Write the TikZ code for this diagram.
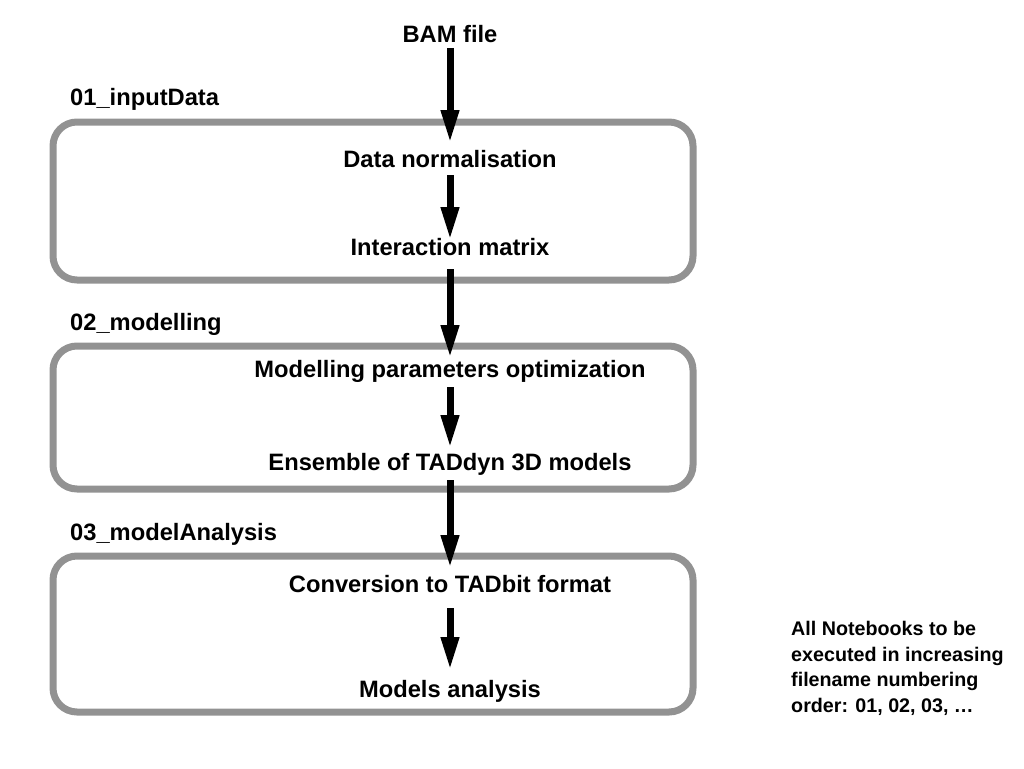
\documentclass[tikz,border=0pt]{standalone}
\usepackage{fontspec}
\setmainfont{Liberation Sans}
\usetikzlibrary{arrows.meta}
\definecolor{boxgray}{RGB}{146,146,146}
\begin{document}
\begin{tikzpicture}[x=1pt,y=-1pt,
  stage/.style={draw=boxgray,line width=7pt,rounded corners=24pt},
  txt/.style={inner sep=0pt,anchor=base,font=\fontsize{23.7}{28}\selectfont\bfseries},
  lbl/.style={inner sep=0pt,anchor=base west,font=\fontsize{23.7}{28}\selectfont\bfseries},
  note/.style={inner sep=0pt,anchor=base west,align=left,font=\fontsize{19.7}{25.5}\selectfont\bfseries},
  arr/.style={line width=7pt,-{Triangle[width=17pt,length=33pt]}}]
\useasboundingbox (0,0) rectangle (1024,768);
% stage boxes
\draw[stage] (53,122) rectangle (693,280);
\draw[stage] (53,346) rectangle (693,489);
\draw[stage] (53,556) rectangle (693,712);
% labels
\node[lbl] (l1) at (70,105) {01\_inputData};
\node[lbl] (l2) at (70,330) {02\_modelling};
\node[lbl] (l3) at (70,540) {03\_modelAnalysis};
% steps
\node[txt] (bam) at (450,42) {BAM file};
\node[txt] (dn) at (450,167) {Data normalisation};
\node[txt] (im) at (450,255) {Interaction matrix};
\node[txt] (mp) at (450,377) {Modelling parameters optimization};
\node[txt] (en) at (450,470) {Ensemble of TADdyn 3D models};
\node[txt] (cv) at (450,592) {Conversion to TADbit format};
\node[txt] (ma) at (450,697) {Models analysis};
% note (base anchor = baseline of last line)
\node[note] (nt) at (791,712) {All Notebooks to be\\executed in increasing\\filename numbering\\order: 01, 02, 03, \dots};
% arrows
\draw[arr] ([yshift=-6pt]bam.base) -- ([yshift=24pt]dn.base);
\draw[arr] ([yshift=-8pt]dn.base) -- ([yshift=15pt]im.base);
\draw[arr] ([yshift=-14pt]im.base) -- ([yshift=19pt]mp.base);
\draw[arr] ([yshift=-10pt]mp.base) -- ([yshift=22pt]en.base);
\draw[arr] ([yshift=-10pt]en.base) -- ([yshift=24pt]cv.base);
\draw[arr] ([yshift=-16pt]cv.base) -- ([yshift=27pt]ma.base);
\end{tikzpicture}
\end{document}
